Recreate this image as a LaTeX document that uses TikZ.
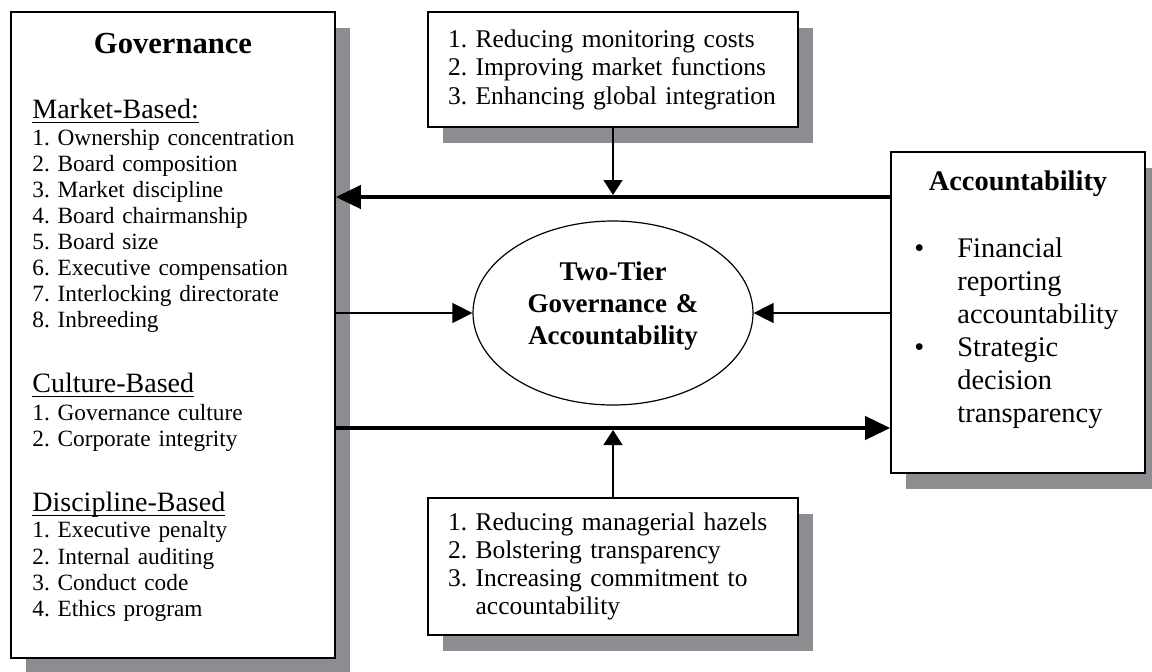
\documentclass[tikz,border=0pt]{standalone}
\usepackage{fontspec}
\setmainfont{Liberation Serif}
\usepackage{xcolor}
\usetikzlibrary{shapes,arrows.meta,positioning,shadows}

\definecolor{shadowgray}{RGB}{140,140,145}
\frenchspacing

% underlined section heading in the governance box
\newcommand{\subhead}[1]{\leavevmode{\fontsize{14pt}{16pt}\selectfont
    \setbox0\hbox{#1}\rlap{\rule[-2.3pt]{\wd0}{0.55pt}}\box0}}
% bullet rows in the accountability box
\newcommand{\bulletrow}[1]{\makebox[21.5pt][l]{\textbullet}#1}
\newcommand{\bulletcont}[1]{\hspace*{21.5pt}#1}

\begin{document}
\begin{tikzpicture}[
    x=0.5pt, y=-0.5pt,
    box/.style={draw, line width=0.8pt, fill=white, inner sep=0pt,
        drop shadow={shadow xshift=7.5pt, shadow yshift=-8pt, fill=shadowgray, opacity=1}},
    listbox/.style={box, text width=165pt, inner xsep=10pt, inner ysep=0pt, align=left,
        font=\fontsize{12.75pt}{14.2pt}\selectfont},
    hub/.style={draw, ellipse, line width=0.6pt, minimum width=140pt, minimum height=92pt},
    heading/.style={inner sep=0pt, font=\fontsize{15.3pt}{18pt}\selectfont\bfseries},
    textblock/.style={inner sep=0pt, align=left},
    thickarrow/.style={-{Triangle[length=12.5pt, width=11.5pt]}, line width=2pt},
    thinarrow/.style={-{Triangle[length=10pt, width=10pt]}, line width=0.65pt},
    feedarrow/.style={-{Triangle[length=7.5pt, width=9.5pt]}, line width=0.65pt}
]
    \useasboundingbox (0,0) rectangle (1152,671);

    % Governance box
    \node[box, minimum width=162pt, minimum height=323pt] (govbox) at (173,335) {};
    \node[heading, anchor=base] (govtitle) at (173,53) {Governance};
    \node[textblock, anchor=base west, text width=150pt,
        font=\fontsize{11.65pt}{13.05pt}\selectfont] (govlist) at (32,118) {%
        \subhead{Market-Based:}\\[0.45pt]
        1. Ownership concentration\\
        2. Board composition\\
        3. Market discipline\\
        4. Board chairmanship\\
        5. Board size\\
        6. Executive compensation\\
        7. Interlocking directorate\\
        8. Inbreeding\\[19.45pt]
        \subhead{Culture-Based}\\[0.95pt]
        1. Governance culture\\
        2. Corporate integrity\\[19.45pt]
        \subhead{Discipline-Based}\\
        1. Executive penalty\\
        2. Internal auditing\\
        3. Conduct code\\
        4. Ethics program};

    % Benefit boxes
    \node[listbox, minimum height=57.5pt] (topbox) at (613,69.5) {%
        1. Reducing monitoring costs\\
        2. Improving market functions\\
        3. Enhancing global integration};
    \node[listbox, minimum height=68.5pt, font=\fontsize{12.75pt}{14pt}\selectfont] (botbox) at (613,566.5) {%
        1. Reducing managerial hazels\\
        2. Bolstering transparency\\
        3. Increasing commitment to\\
        \hphantom{3. }accountability};

    % Accountability box
    \node[box, minimum width=127pt, minimum height=160.5pt] (accbox) at (1018,312.5) {};
    \node[heading, anchor=base, font=\fontsize{14.2pt}{16pt}\selectfont\bfseries] (acctitle) at (1018,190) {Accountability};
    \node[textblock, anchor=base west, text width=115pt,
        font=\fontsize{14.2pt}{16.5pt}\selectfont] (acclist) at (914,257) {%
        \bulletrow{Financial}\\
        \bulletcont{reporting}\\
        \bulletcont{accountability}\\
        \bulletrow{Strategic}\\
        \bulletcont{decision}\\
        \bulletcont{transparency}};

    % Two-tier ellipse
    \node[hub] (hub) at (613,313) {};
    \node[inner sep=0pt, anchor=base, text width=130pt, align=center,
        font=\fontsize{13.5pt}{16pt}\selectfont\bfseries] (hubtext) at (613,280) {%
        Two-Tier\\Governance \&\\Accountability};

    % Junctions on the thick lines
    \coordinate (upper) at (613,197);
    \coordinate (lower) at (613,428);

    % Connections
    \draw[thickarrow] (accbox.west |- upper) -- (govbox.east |- upper);
    \draw[thickarrow] (govbox.east |- lower) -- (accbox.west |- lower);
    \draw[thinarrow] (govbox.east |- hub) -- (hub);
    \draw[thinarrow] (accbox.west |- hub) -- (hub);
    \draw[feedarrow, shorten >=1pt] (topbox) -- (upper);
    \draw[feedarrow, shorten >=1pt] (botbox) -- (lower);
\end{tikzpicture}
\end{document}
